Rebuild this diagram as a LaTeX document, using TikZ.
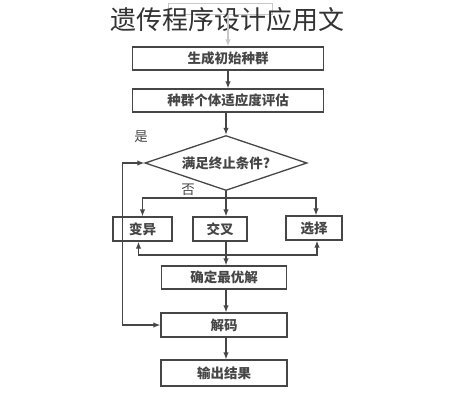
\documentclass[tikz,border=0pt]{standalone}
\usepackage{fontspec}
\newfontfamily\cjk{Noto Sans CJK SC}
\usetikzlibrary{%
  arrows.meta,%
  shapes.geometric,% wg. diamond
  positioning,%
  calc%
}
\definecolor{inkgray}{RGB}{70,70,70}
\definecolor{fadegray}{RGB}{200,200,200}

\begin{document}
\begin{tikzpicture}
  [
  x=1pt, y=-1pt,
  font=\cjk\fontsize{13.5}{14}\selectfont, line width=1.3pt, draw=inkgray, text=inkgray,
  >={Latex[length=7pt,width=5.5pt]},
  stepbox/.style={rectangle, minimum height=23pt, inner sep=0pt, draw=inkgray, line width=1.3pt, font=\cjk\bfseries\fontsize{13.5}{14}\selectfont},
  decision/.style={diamond, aspect=2.95, minimum width=162pt, minimum height=55pt, inner sep=0pt, draw=inkgray, line width=1.3pt, font=\cjk\bfseries\fontsize{13.5}{14}\selectfont},
  flow/.style={->, draw=inkgray}
  ]
\useasboundingbox (0,0) rectangle (452,400);

% faint box behind the title
\node[stepbox, draw=fadegray, minimum width=104pt, minimum height=11pt, line width=1pt] (start) at (220,8.5) {};

\node[stepbox, minimum width=191pt] (init) at (228,58.5) {生成初始种群};
\node[stepbox, minimum width=191pt] (eval) at (228,100.5) {种群个体适应度评估};
\node[decision] (cond) at (226,163) {满足终止条件?};

\node[stepbox, minimum width=59pt, minimum height=24pt] (mut) at (142.5,229) {变异};
\node[stepbox, minimum width=54pt, minimum height=24pt] (cross) at (220,229) {交叉};
\node[stepbox, minimum width=56pt, minimum height=24pt] (sel) at (314,228) {选择};

\node[stepbox, minimum width=125pt] (best) at (224,277.5) {确定最优解};
\node[stepbox, minimum width=126pt, minimum height=24pt] (decode) at (224,325) {解码};
\node[stepbox, minimum width=126pt, minimum height=26pt] (out) at (224,373) {输出结果};

\node (yes) at (141,137) {是};
\node (no) at (188,190) {否};

\node[font=\cjk\fontsize{26}{28}\selectfont, text=black!80] (title) at (227,20) {遗传程序设计应用文};

\coordinate (fork) at (226,198);
\coordinate (join) at (226,255);

\draw[flow, draw=fadegray] (start.south -| init.north) -- (init.north);
\draw[flow] (init) -- (eval);
\draw[flow] (eval.south -| cond.north) -- (cond.north);

\draw[flow] (cond.south) -- (cond.south |- cross.north);
\draw[flow] (fork) -| (mut.north);
\draw[flow] (fork) -| ([xshift=2pt]sel.north);

\draw (cond.south |- cross.south) -- (join);
\draw[flow] (join) -| ([xshift=-4pt]mut.south);
\draw[flow] (join) -| ([xshift=3pt]sel.south);
\draw[flow] (join) -- (join |- best.north);

\draw[flow] (join |- best.south) -- (join |- decode.north);
\draw[flow] (join |- decode.south) -- (join |- out.north);

\draw[<->] (cond.west) -- ++(-22,0) |- (decode.west);
\end{tikzpicture}
\end{document}
